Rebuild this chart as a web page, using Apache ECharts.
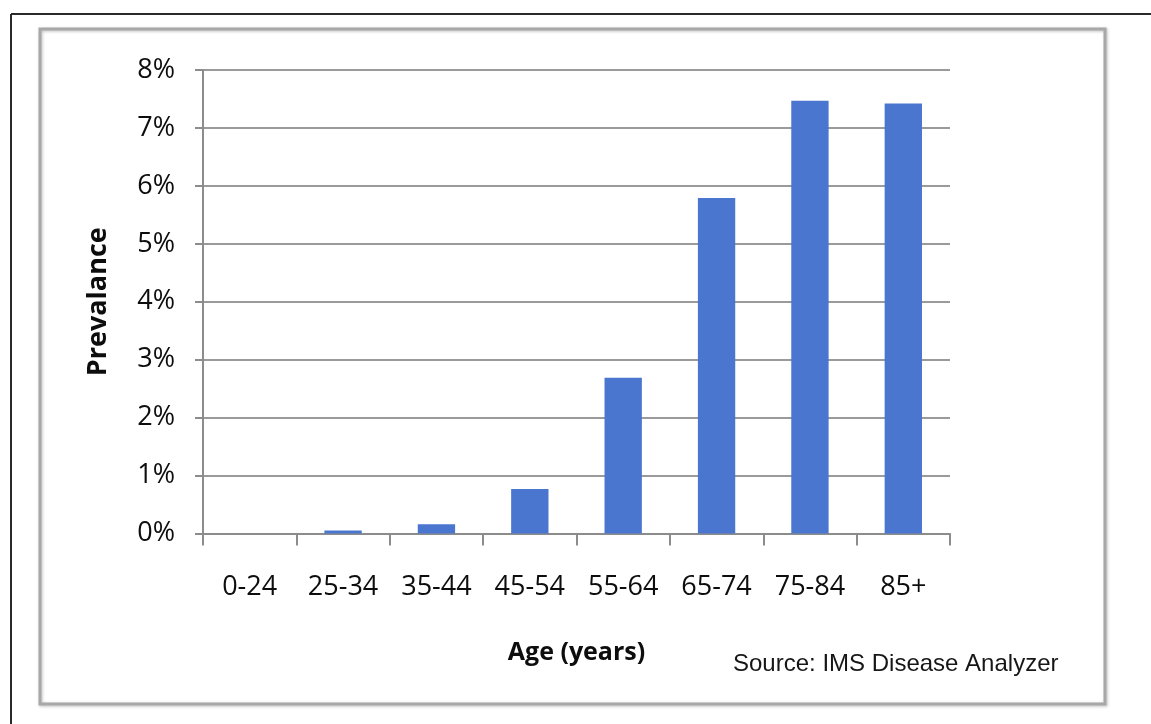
<!DOCTYPE html>
<html>
<head>
<meta charset="utf-8">
<script src="https://cdn.jsdelivr.net/npm/echarts@6/dist/echarts.min.js"></script>
<style>
  html, body { margin: 0; padding: 0; background: #fff; }
  #chart { width: 1151px; height: 724px; }
</style>
</head>
<body>
<div id="chart"></div>
<script>
// Age groups and prevalence (%) per group
const ageGroups = ['0-24', '25-34', '35-44', '45-54', '55-64', '65-74', '75-84', '85+'];
const prevalence = [0, 0.05, 0.16, 0.77, 2.69, 5.79, 7.47, 7.42];
const yMin = 0, yMax = 8, yStep = 1;

const labelFont = '"Open Sans", sans-serif';
const chart = echarts.init(document.getElementById('chart'), null, { renderer: 'canvas' });

chart.setOption({
  backgroundColor: '#ffffff',
  animation: false,
  graphic: [
    // outer page frame (top and left edges)
    { type: 'line', shape: { x1: 11, y1: 14, x2: 1151, y2: 14 }, style: { stroke: '#2a2a2a', lineWidth: 2 } },
    { type: 'line', shape: { x1: 11, y1: 14, x2: 11, y2: 724 }, style: { stroke: '#2a2a2a', lineWidth: 2 } },
    // chart border
    {
      type: 'rect',
      shape: { x: 40, y: 29, width: 1065, height: 675 },
      style: { fill: 'none', stroke: '#a8a8a8', lineWidth: 3, shadowBlur: 3, shadowOffsetX: 1, shadowOffsetY: 1, shadowColor: 'rgba(0,0,0,0.25)' }
    },
    {
      type: 'text', left: 733, top: 652,
      style: { text: 'Source: IMS Disease Analyzer', font: '24px "Liberation Sans", Arial, sans-serif', fill: '#161616' }
    }
  ],
  grid: { left: 203, top: 70, width: 747, height: 463.5 },
  xAxis: {
    type: 'category',
    data: ageGroups,
    boundaryGap: true,
    name: 'Age (years)',
    nameLocation: 'middle',
    nameGap: 107,
    nameTextStyle: { fontFamily: labelFont, fontWeight: 'bold', fontSize: 25, color: '#0d0d0d' },
    axisLine: { lineStyle: { color: '#8c8c8c', width: 2 } },
    axisTick: { show: true, length: 12, alignWithLabel: false, lineStyle: { color: '#8c8c8c', width: 2 } },
    axisLabel: { fontFamily: labelFont, fontSize: 27, color: '#0d0d0d', margin: 40 }
  },
  yAxis: {
    type: 'value',
    min: yMin, max: yMax, interval: yStep,
    name: 'Prevalance',
    nameLocation: 'middle',
    nameRotate: 90,
    nameGap: 91,
    nameTextStyle: { fontFamily: labelFont, fontWeight: 'bold', fontSize: 27, color: '#0d0d0d' },
    axisLine: { show: true, lineStyle: { color: '#8c8c8c', width: 2 } },
    axisTick: { show: true, length: 8, lineStyle: { color: '#8c8c8c', width: 2 } },
    splitLine: { show: true, lineStyle: { color: '#9a9a9a', width: 2 } },
    axisLabel: { fontFamily: labelFont, fontSize: 27, color: '#0d0d0d', margin: 28, formatter: '{value}%' }
  },
  series: [{
    type: 'bar',
    data: prevalence,
    barCategoryGap: '60%',
    itemStyle: { color: '#4a76d0' }
  }]
});
</script>
</body>
</html>
